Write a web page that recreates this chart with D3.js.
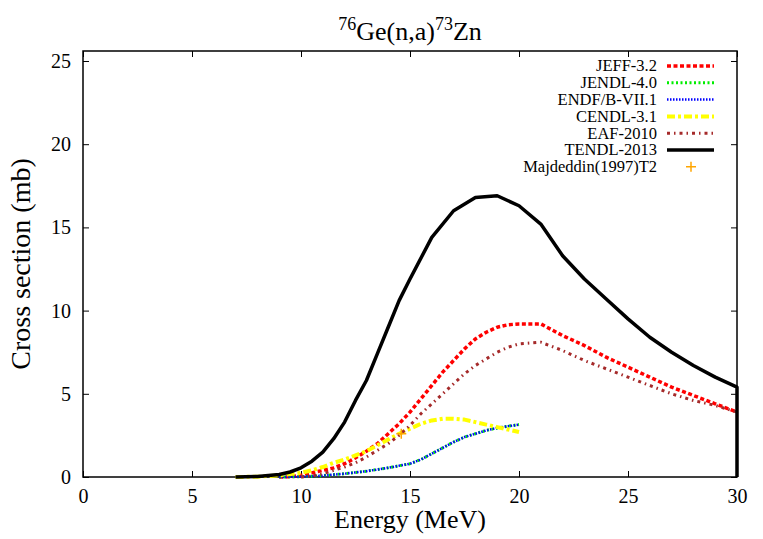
<!DOCTYPE html>
<html>
<head>
<meta charset="utf-8">
<script src="https://cdn.jsdelivr.net/npm/d3@7"></script>
<style>
    body { margin: 0; background: #fff; }
</style>
</head>
<body>
<div id="chart"></div>
<script>
// energies (MeV) and cross sections (mb)
const jeffE = [9, 9.5, 10, 10.5, 11, 11.5, 12, 12.5, 13, 13.5, 14, 14.5, 15, 15.5, 16, 16.5, 17, 17.5, 18, 18.5, 19, 19.5, 20, 21, 22, 23, 24, 25, 26, 27, 28, 29, 30];
const jeffY = [0, 0.02, 0.1, 0.25, 0.4, 0.55, 0.8, 1.15, 1.55, 2.0, 2.6, 3.2, 3.9, 4.7, 5.5, 6.3, 7.0, 7.7, 8.3, 8.7, 9.0, 9.15, 9.2, 9.2, 8.5, 7.9, 7.2, 6.6, 6.0, 5.4, 4.9, 4.4, 3.9];

const jendlE = [9, 10, 11, 12, 13, 14, 15, 15.5, 16, 16.5, 17, 17.5, 18, 18.5, 19, 19.5, 20];
const jendlY = [0, 0.02, 0.08, 0.2, 0.35, 0.55, 0.8, 1.05, 1.4, 1.75, 2.1, 2.4, 2.6, 2.8, 2.95, 3.05, 3.15];

const endfE = [9, 10, 11, 12, 13, 14, 15, 15.5, 16, 16.5, 17, 17.5, 18, 18.5, 19, 19.5, 20];
const endfY = [0, 0.02, 0.08, 0.2, 0.35, 0.55, 0.8, 1.05, 1.4, 1.75, 2.1, 2.4, 2.6, 2.8, 2.95, 3.05, 3.15];

const cendlE = [7, 8, 9, 10, 10.5, 11, 11.5, 12, 12.5, 13, 13.5, 14, 14.5, 15, 15.5, 16, 16.5, 17, 17.5, 18, 18.5, 19, 19.5, 20];
const cendlY = [0, 0.02, 0.1, 0.25, 0.4, 0.6, 0.85, 1.05, 1.3, 1.55, 1.9, 2.25, 2.6, 2.9, 3.2, 3.4, 3.5, 3.5, 3.45, 3.3, 3.15, 3.0, 2.85, 2.7];

const eafE = [10, 10.5, 11, 11.5, 12, 12.5, 13, 13.5, 14, 14.5, 15, 15.5, 16, 16.5, 17, 17.5, 18, 18.5, 19, 19.5, 20, 21, 22, 23, 24, 25, 26, 27, 28, 29, 30];
const eafY = [0, 0.05, 0.2, 0.4, 0.6, 0.85, 1.2, 1.6, 2.0, 2.5, 3.1, 3.8, 4.4, 5.0, 5.6, 6.2, 6.7, 7.1, 7.5, 7.8, 8.0, 8.1, 7.6, 7.0, 6.5, 6.0, 5.5, 5.0, 4.6, 4.3, 3.9];

const tendlE = [7, 8, 9, 9.5, 10, 10.5, 11, 11.5, 12, 12.5, 13, 13.5, 14, 14.5, 15, 16, 17, 18, 19, 20, 21, 22, 23, 24, 25, 26, 27, 28, 29, 30, 30];
const tendlY = [0, 0.03, 0.15, 0.3, 0.55, 0.95, 1.5, 2.3, 3.3, 4.6, 5.8, 7.4, 9.0, 10.6, 11.9, 14.4, 16.0, 16.8, 16.9, 16.3, 15.2, 13.3, 11.9, 10.7, 9.5, 8.4, 7.5, 6.7, 6.0, 5.4, 0];

const expE = [14.6];
const expY = [2.6];

const xTicks = [0, 5, 10, 15, 20, 25, 30];
const yTicks = [0, 5, 10, 15, 20, 25];

const W = 763, H = 539;
const plot = { left: 83, right: 737, top: 51, bottom: 477 };
const FONT = "'Liberation Serif', 'Times New Roman', Times, 'DejaVu Serif', serif";

const x = d3.scaleLinear().domain([0, 30]).range([plot.left, plot.right]);
const y = d3.scaleLinear().domain([0, 25.6]).range([plot.bottom, plot.top]);

const svg = d3.select("#chart").append("svg")
    .attr("width", W)
    .attr("height", H)
    .attr("font-family", FONT);

const zip = (xs, ys) => xs.map((v, i) => [v, ys[i]]);

const series = [
    { name: "JEFF-3.2", data: zip(jeffE, jeffY), color: "#ff0000", width: 3.5, dash: "4,2.5" },
    { name: "JENDL-4.0", data: zip(jendlE, jendlY), color: "#00ee00", width: 3, dash: "2,2.5" },
    { name: "ENDF/B-VII.1", data: zip(endfE, endfY), color: "#0000ff", width: 2.5, dash: "1.5,1.5" },
    { name: "CENDL-3.1", data: zip(cendlE, cendlY), color: "#ffff00", width: 4, dash: "8,3,3,3" },
    { name: "EAF-2010", data: zip(eafE, eafY), color: "#a52a2a", width: 3, dash: "3,4,1.5,4" },
    { name: "TENDL-2013", data: zip(tendlE, tendlY), color: "#000000", width: 3.5, dash: null }
];

// frame
svg.append("rect")
    .attr("x", plot.left).attr("y", plot.top)
    .attr("width", plot.right - plot.left)
    .attr("height", plot.bottom - plot.top)
    .attr("fill", "none").attr("stroke", "#000").attr("stroke-width", 1.5);

// inward ticks on all four sides
const tickLen = 6;
const axisBottom = d3.axisBottom(x).tickValues(xTicks).tickSizeInner(-tickLen).tickSizeOuter(0).tickPadding(12);
const axisTop = d3.axisTop(x).tickValues(xTicks).tickSizeInner(-tickLen).tickSizeOuter(0).tickFormat("");
const axisLeft = d3.axisLeft(y).tickValues(yTicks).tickSizeInner(-tickLen).tickSizeOuter(0).tickPadding(12);
const axisRight = d3.axisRight(y).tickValues(yTicks).tickSizeInner(-tickLen).tickSizeOuter(0).tickFormat("");

const styleAxis = g => {
    g.attr("font-family", FONT).attr("font-size", 20);
    g.select(".domain").remove();
    g.selectAll(".tick line").attr("stroke", "#000").attr("stroke-width", 1);
    g.selectAll(".tick text").attr("fill", "#000");
};

svg.append("g").attr("transform", `translate(0,${plot.bottom})`).call(axisBottom).call(styleAxis);
svg.append("g").attr("transform", `translate(0,${plot.top})`).call(axisTop).call(styleAxis);
svg.append("g").attr("transform", `translate(${plot.left},0)`).call(axisLeft).call(styleAxis);
svg.append("g").attr("transform", `translate(${plot.right},0)`).call(axisRight).call(styleAxis);

// curves
const line = d3.line().x(d => x(d[0])).y(d => y(d[1]));

svg.append("g").selectAll("path")
    .data(series)
    .enter()
    .append("path")
    .attr("d", d => line(d.data))
    .attr("fill", "none")
    .attr("stroke", d => d.color)
    .attr("stroke-width", d => d.width)
    .attr("stroke-dasharray", d => d.dash)
    .attr("stroke-linejoin", "round");

// experimental point
svg.append("g").selectAll("path")
    .data(zip(expE, expY))
    .enter()
    .append("path")
    .attr("d", d => `M${x(d[0]) - 5},${y(d[1])}h10M${x(d[0])},${y(d[1]) - 5}v10`)
    .attr("stroke", "#ffa500")
    .attr("stroke-width", 1.5);

// legend
const legend = svg.append("g").attr("font-size", 16.5);
const rowY = i => 66 + i * 16.8;

series.forEach((s, i) => {
    legend.append("text")
        .attr("x", 657).attr("y", rowY(i))
        .attr("dy", "0.33em")
        .attr("text-anchor", "end")
        .text(s.name);
    legend.append("line")
        .attr("x1", 667).attr("x2", 714)
        .attr("y1", rowY(i)).attr("y2", rowY(i))
        .attr("stroke", s.color)
        .attr("stroke-width", s.width)
        .attr("stroke-dasharray", s.dash);
});

const expRow = rowY(series.length);
legend.append("text")
    .attr("x", 657).attr("y", expRow)
    .attr("dy", "0.33em")
    .attr("text-anchor", "end")
    .text("Majdeddin(1997)T2");
legend.append("path")
    .attr("d", `M686,${expRow}h10M691,${expRow - 5}v10`)
    .attr("stroke", "#ffa500")
    .attr("stroke-width", 1.5);

// title with mass numbers raised
const title = svg.append("text")
    .attr("x", 410).attr("y", 40)
    .attr("text-anchor", "middle")
    .attr("font-size", 26);
title.append("tspan").attr("font-size", 18).attr("dy", -10).text("76");
title.append("tspan").attr("dy", 10).text("Ge(n,a)");
title.append("tspan").attr("font-size", 18).attr("dy", -10).text("73");
title.append("tspan").attr("dy", 10).text("Zn");

// axis titles
svg.append("text")
    .attr("x", 410).attr("y", 528)
    .attr("text-anchor", "middle")
    .attr("font-size", 26)
    .text("Energy (MeV)");

svg.append("text")
    .attr("transform", `translate(30,${(plot.top + plot.bottom) / 2}) rotate(-90)`)
    .attr("text-anchor", "middle")
    .attr("font-size", 28)
    .text("Cross section (mb)");
</script>
</body>
</html>
